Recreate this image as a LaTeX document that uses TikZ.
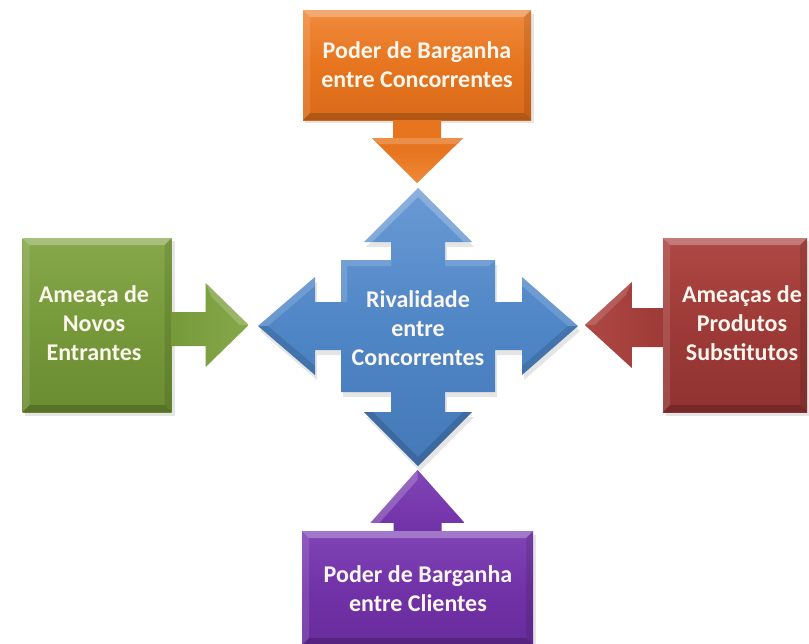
\documentclass[tikz,border=0pt]{standalone}
\usepackage{fontspec}
\setmainfont{Carlito}
\usetikzlibrary{calc}
\definecolor{orangeM}{HTML}{E7751F}
\definecolor{orangeL}{HTML}{EF8A3C}
\definecolor{orangeD}{HTML}{D96A18}
\definecolor{blueM}{HTML}{4F86C6}
\definecolor{blueL}{HTML}{6A9AD4}
\definecolor{blueD}{HTML}{4579B8}
\definecolor{greenM}{HTML}{76993A}
\definecolor{greenL}{HTML}{86A84A}
\definecolor{greenD}{HTML}{6B8C32}
\definecolor{redM}{HTML}{9E3A37}
\definecolor{redL}{HTML}{AE4844}
\definecolor{redD}{HTML}{903331}
\definecolor{purpleM}{HTML}{7232A8}
\definecolor{purpleL}{HTML}{8045B6}
\definecolor{purpleD}{HTML}{682C9C}
\definecolor{txt}{HTML}{FBF6EE}
\tikzset{
  lbl/.style={align=center, text=txt, font=\fontsize{24}{29}\selectfont\bfseries, inner sep=0pt},
  bevelbox/.style={rectangle, inner sep=0pt, draw=none,
    path picture={
      \fill[white, opacity=.28] (path picture bounding box.north west) -- (path picture bounding box.north east)
        -- ([xshift=-7pt,yshift=-7pt]path picture bounding box.north east) -- ([xshift=7pt,yshift=-7pt]path picture bounding box.north west) -- cycle;
      \fill[white, opacity=.12] (path picture bounding box.north west) -- ([xshift=7pt,yshift=-7pt]path picture bounding box.north west)
        -- ([xshift=7pt,yshift=7pt]path picture bounding box.south west) -- (path picture bounding box.south west) -- cycle;
      \fill[black, opacity=.18] (path picture bounding box.south west) -- (path picture bounding box.south east)
        -- ([xshift=-7pt,yshift=7pt]path picture bounding box.south east) -- ([xshift=7pt,yshift=7pt]path picture bounding box.south west) -- cycle;
      \fill[black, opacity=.10] (path picture bounding box.north east) -- ([xshift=-7pt,yshift=-7pt]path picture bounding box.north east)
        -- ([xshift=-7pt,yshift=7pt]path picture bounding box.south east) -- (path picture bounding box.south east) -- cycle;
    }},
  shadowfx/.style={fill=black, opacity=.10},
}
\begin{document}
\begin{tikzpicture}[x=1pt, y=-1pt]
\useasboundingbox (0,0) rectangle (809,643);
\fill[white] (0,0) rectangle (809,643);

% ---------- central cross ----------
\fill[shadowfx] ($(418,190)+(2,3)$) -- ++(54,54) -- ++(-27,0) -- ++(0,18) -- ++(50,0) -- ++(0,42) -- ++(27,0) -- ++(0,-25) -- ++(56,49) -- ++(-56,49) -- ++(0,-25) -- ++(-27,0) -- ++(0,42) -- ++(-50,0) -- ++(0,20) -- ++(27,0) -- ++(-54,54) -- ++(-54,-54) -- ++(27,0) -- ++(0,-20) -- ++(-50,0) -- ++(0,-42) -- ++(-26,0) -- ++(0,25) -- ++(-57,-49) -- ++(57,-49) -- ++(0,25) -- ++(26,0) -- ++(0,-42) -- ++(50,0) -- ++(0,-18) -- ++(-27,0) -- cycle;
\shade[top color=blueL, bottom color=blueD, middle color=blueM]
  (418,188) -- (472,242) -- (445,242) -- (445,260) -- (495,260) -- (495,302) -- (522,302) -- (522,277)
  -- (578,326) -- (522,375) -- (522,350) -- (495,350) -- (495,392) -- (445,392) -- (445,412) -- (472,412)
  -- (418,466) -- (364,412) -- (391,412) -- (391,392) -- (341,392) -- (341,350) -- (315,350) -- (315,375)
  -- (258,326) -- (315,277) -- (315,302) -- (341,302) -- (341,260) -- (391,260) -- (391,242) -- (364,242) -- cycle;
% bevel highlights on the cross
\fill[white, opacity=.22] (418,188) -- (472,242) -- (464,242) -- (418,197) -- (372,242) -- (364,242) -- cycle;
\fill[white, opacity=.15] (258,326) -- (315,277) -- (315,286) -- (268,326) -- cycle;
\fill[white, opacity=.15] (522,277) -- (578,326) -- (568,326) -- (522,286) -- cycle;
\fill[white, opacity=.15] (341,260) -- (391,260) -- (391,266) -- (347,266) -- (347,302) -- (341,302) -- cycle;
\fill[white, opacity=.15] (445,260) -- (495,260) -- (489,266) -- (445,266) -- cycle;
\fill[black, opacity=.14] (364,412) -- (418,466) -- (472,412) -- (463,412) -- (418,457) -- (373,412) -- cycle;
\fill[black, opacity=.12] (258,326) -- (315,375) -- (315,366) -- (268,326) -- cycle;
\fill[black, opacity=.12] (578,326) -- (522,375) -- (522,366) -- (568,326) -- cycle;
\node[lbl] (center) at (418,328) {Rivalidade\\entre\\Concorrentes};

% ---------- top: orange ----------
\fill[shadowfx] (305,14) rectangle (534,123);
\node[bevelbox, minimum width=228pt, minimum height=110pt, top color=orangeL, bottom color=orangeD, middle color=orangeM] (top) at (417,65) {};
\node[lbl] (toptext) at (top.center) {Poder de Barganha\\entre Concorrentes};
\shade[top color=orangeM, bottom color=orangeL, middle color=orangeM]
  ($(top.south)+(-24,0)$) -- ($(top.south)+(24,0)$) -- ($(top.south)+(24,18)$) -- ($(top.south)+(46,18)$)
  -- ($(top.south)+(0,63)$) -- ($(top.south)+(-45,18)$) -- ($(top.south)+(-24,18)$) -- cycle;
\fill[white, opacity=.2] ($(top.south)+(-45,18)$) -- ($(top.south)+(46,18)$) -- ($(top.south)+(38,24)$) -- ($(top.south)+(-37,24)$) -- cycle;

% ---------- left: green ----------
\fill[shadowfx] (25,241) rectangle (175,416);
\node[bevelbox, minimum width=149pt, minimum height=174pt, top color=greenL, bottom color=greenD, middle color=greenM] (left) at (97,325) {};
\node[lbl] (lefttext) at (94,323) {Ameaça de\\Novos\\Entrantes};
\shade[left color=greenM, right color=greenL]
  ($(left.east)+(0,-13)$) -- ($(left.east)+(34,-13)$) -- ($(left.east)+(34,-42)$) -- ($(left.east)+(77,0)$)
  -- ($(left.east)+(34,42)$) -- ($(left.east)+(34,21)$) -- ($(left.east)+(0,21)$) -- cycle;
\fill[white, opacity=.18] ($(left.east)+(34,-42)$) -- ($(left.east)+(77,0)$) -- ($(left.east)+(68,0)$) -- ($(left.east)+(40,-28)$) -- cycle;

% ---------- right: red ----------
\fill[shadowfx] (666,241) rectangle (810,416);
\node[bevelbox, minimum width=144pt, minimum height=174pt, top color=redL, bottom color=redD, middle color=redM] (right) at (735,325) {};
\node[lbl] (righttext) at (742,323) {Ameaças de\\Produtos\\Substitutos};
\shade[left color=redL, right color=redM]
  ($(right.west)+(0,-17)$) -- ($(right.west)+(-31,-17)$) -- ($(right.west)+(-31,-43)$) -- ($(right.west)+(-78,0)$)
  -- ($(right.west)+(-31,43)$) -- ($(right.west)+(-31,22)$) -- ($(right.west)+(0,22)$) -- cycle;
\fill[white, opacity=.15] ($(right.west)+(-31,-43)$) -- ($(right.west)+(-78,0)$) -- ($(right.west)+(-68,0)$) -- ($(right.west)+(-37,-30)$) -- cycle;

% ---------- bottom: purple ----------
\fill[shadowfx] (305,535) rectangle (536,646);
\node[bevelbox, minimum width=231pt, minimum height=114pt, top color=purpleL, bottom color=purpleD, middle color=purpleM] (bottom) at (417.5,588) {};
\node[lbl] (bottomtext) at (418,589) {Poder de Barganha\\entre Clientes};
\shade[top color=purpleL, bottom color=purpleM]
  ($(bottom.north)+(-24,0)$) -- ($(bottom.north)+(-24,-8)$) -- ($(bottom.north)+(-47,-8)$) -- ($(bottom.north)+(0,-61)$)
  -- ($(bottom.north)+(47,-8)$) -- ($(bottom.north)+(24,-8)$) -- ($(bottom.north)+(24,0)$) -- cycle;
\fill[white, opacity=.2] ($(bottom.north)+(-47,-8)$) -- ($(bottom.north)+(0,-61)$) -- ($(bottom.north)+(0,-51)$) -- ($(bottom.north)+(-38,-8)$) -- cycle;
\end{tikzpicture}
\end{document}
